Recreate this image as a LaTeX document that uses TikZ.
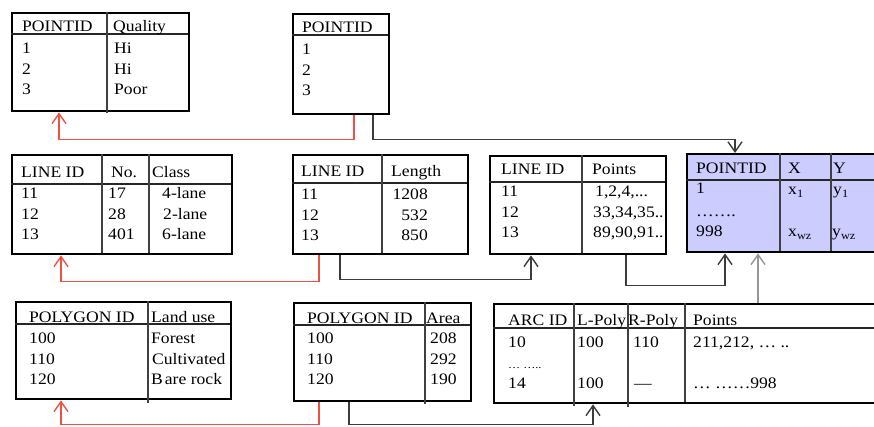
\documentclass[tikz,border=0pt]{standalone}
\usepackage{fontspec}
\setmainfont{Liberation Serif}[FakeStretch=1.1]
\usetikzlibrary{arrows.meta}
\definecolor{lav}{RGB}{204,204,255}
\definecolor{redc}{RGB}{240,80,65}
\definecolor{darkc}{RGB}{60,60,60}
\definecolor{grayc}{RGB}{150,150,150}
\tikzset{
  tbl/.style={draw=black, line width=2.4pt, inner sep=0pt, anchor=north west},
  hline/.style={line width=1.6pt, draw=black!85},
  vline/.style={line width=1.4pt, draw=black!75},
  txt/.style={anchor=base west, inner sep=0pt, font=\fontsize{16}{19}\selectfont},
  txtr/.style={txt, anchor=base east},
  small/.style={txt, font=\fontsize{11}{13}\selectfont},
  arr/.style={-{Straight Barb[length=10pt,width=14pt]}, line width=1.4pt},
  redconn/.style={arr, draw=redc},
  darkconn/.style={arr, draw=darkc},
  grayconn/.style={arr, draw=grayc},
}
\newcommand\tcell[4]{\node[txt] (#1) at (#2,#3) {#4};}
\newcommand\tcellr[4]{\node[txtr] (#1) at (#2,#3) {#4};}
\begin{document}
\begin{tikzpicture}[x=1pt,y=-1pt]
\useasboundingbox (0,0) rectangle (874,427);
\clip (0,0) rectangle (874,427);

% ---------- Table A ----------
\node[tbl, minimum width=177pt, minimum height=98pt] (tA) at (11,12) {};
\draw[hline] (11,34) -- (188,34);
\draw[vline] (107,12) -- (107,113);
\tcell{A-h1}{22}{32}{POINTID}
\tcell{A-h2}{113}{32}{Quality}
\tcell{A-11}{22}{54}{1}
\tcell{A-21}{22}{75}{2}
\tcell{A-31}{22}{95}{3}
\tcell{A-12}{114}{54}{Hi}
\tcell{A-22}{114}{75}{Hi}
\tcell{A-32}{114}{95}{Poor}

% ---------- Table B ----------
\node[tbl, minimum width=96pt, minimum height=100pt] (tB) at (292,13) {};
\draw[hline] (292,35) -- (388,35);
\tcell{B-h1}{302}{33}{POINTID}
\tcell{B-11}{302}{55}{1}
\tcell{B-21}{302}{76}{2}
\tcell{B-31}{302}{96}{3}

% ---------- Table C ----------
\node[tbl, minimum width=220pt, minimum height=99pt] (tC) at (11,154) {};
\draw[hline] (11,184) -- (231,184);
\draw[vline] (102,154) -- (102,253);
\draw[vline] (149,154) -- (149,253);
\tcell{C-h1}{21}{178}{LINE ID}
\tcell{C-h2}{111}{178}{No.}
\tcell{C-h3}{152}{178}{Class}
\tcell{C-11}{21}{199}{11}
\tcell{C-21}{21}{220}{12}
\tcell{C-31}{21}{240}{13}
\tcell{C-12}{108}{199}{17}
\tcell{C-22}{108}{220}{28}
\tcell{C-32}{108}{240}{401}
\tcell{C-13}{162}{199}{4-lane}
\tcell{C-23}{163}{220}{2-lane}
\tcell{C-33}{162}{240}{6-lane}

% ---------- Table D ----------
\node[tbl, minimum width=175pt, minimum height=99pt] (tD) at (292,154) {};
\draw[hline] (292,183) -- (467,183);
\draw[vline] (382,154) -- (382,253);
\tcell{D-h1}{301}{177}{LINE ID}
\tcell{D-h2}{391}{177}{Length}
\tcell{D-11}{301}{200}{11}
\tcell{D-21}{301}{221}{12}
\tcell{D-31}{301}{241}{13}
\tcellr{D-12}{428}{200}{1208}
\tcellr{D-22}{428}{221}{532}
\tcellr{D-32}{428}{241}{850}

% ---------- Table E ----------
\node[tbl, minimum width=176pt, minimum height=98pt] (tE) at (489,155) {};
\draw[hline] (489,182) -- (665,182);
\draw[vline] (582,155) -- (582,253);
\tcell{E-h1}{501}{175}{LINE ID}
\tcell{E-h2}{592}{175}{Points}
\tcell{E-11}{501}{197}{11}
\tcell{E-21}{501}{218}{12}
\tcell{E-31}{501}{238}{13}
\tcell{E-12}{595}{197}{1,2,4,...}
\tcell{E-22}{593}{218}{33,34,35..}
\tcell{E-32}{593}{238}{89,90,91..}

% ---------- Table F (points, coordinates) ----------
\node[tbl, fill=lav, minimum width=210pt, minimum height=98pt] (tF) at (686,153) {};
\draw[hline] (686,180) -- (896,180);
\draw[vline] (780,153) -- (780,251);
\draw[vline] (831,153) -- (831,251);
\tcell{F-h1}{696}{174}{POINTID}
\tcell{F-h2}{788}{174}{X}
\tcell{F-h3}{833}{174}{Y}
\tcell{F-11}{696}{194}{1}
\tcell{F-21}{696}{217}{…….}
\tcell{F-31}{696}{237}{998}
\tcell{F-12}{788}{195}{x\textsubscript{1}}
\tcell{F-13}{833}{195}{y\textsubscript{1}}
\tcell{F-32}{788}{237}{x\textsubscript{wz}}
\tcell{F-33}{832}{237}{y\textsubscript{wz}}

% ---------- Table G ----------
\node[tbl, minimum width=215pt, minimum height=97pt] (tG) at (15,301) {};
\draw[hline] (15,324) -- (230,324);
\draw[vline] (148,301) -- (148,403);
\tcell{G-h1}{29}{322}{POLYGON ID}
\tcell{G-h2}{151}{322}{Land use}
\tcell{G-11}{29}{343}{100}
\tcell{G-21}{29}{364}{110}
\tcell{G-31}{29}{384}{120}
\tcell{G-12}{151}{343}{Forest}
\tcell{G-22}{152}{364}{Cultivated}
\tcell{G-32}{151}{384}{B\kern2pt are rock}

% ---------- Table H ----------
\node[tbl, minimum width=177pt, minimum height=98pt] (tH) at (293,302) {};
\draw[hline] (293,325) -- (470,325);
\draw[vline] (425,302) -- (425,404);
\tcell{H-h1}{307}{323}{POLYGON ID}
\tcell{H-h2}{426}{323}{Area}
\tcell{H-11}{307}{343}{100}
\tcell{H-21}{307}{364}{110}
\tcell{H-31}{307}{384}{120}
\tcell{H-12}{430}{343}{208}
\tcell{H-22}{430}{364}{292}
\tcell{H-32}{430}{384}{190}

% ---------- Table ARC ----------
\node[tbl, minimum width=403pt, minimum height=99pt] (tArc) at (493,303) {};
\draw[hline] (493,328) -- (896,328);
\draw[vline] (574,303) -- (574,406);
\draw[vline] (628,303) -- (628,407);
\draw[vline] (685,303) -- (685,402);
\tcell{R-h1}{508}{325}{ARC ID}
\tcell{R-h2}{577}{325}{L-Poly}
\tcell{R-h3}{628}{325}{R-Poly}
\tcell{R-h4}{693}{325}{Points}
\tcell{R-11}{508}{347}{10}
\tcell{R-12}{577}{347}{100}
\tcell{R-13}{633}{347}{110}
\tcell{R-14}{693}{347}{211,212, … ..}
\node[small] (R-21) at (508,368) {… …..};
\tcell{R-31}{508}{388}{14}
\tcell{R-32}{577}{388}{100}
\tcell{R-33}{634}{388}{---}
\tcell{R-34}{693}{388}{… ……998}

% ---------- Connectors ----------
\draw[redconn] ([xshift=62pt]tB.south west) -- ++(0,24) -| ([xshift=48pt]tA.south west);
\draw[darkconn] ([xshift=81pt]tB.south west) -- ++(0,24) -| ([xshift=49pt]tF.north west);
\draw[redconn] ([xshift=27pt]tD.south west) -- ++(0,26) -| ([xshift=50pt]tC.south west);
\draw[darkconn] ([xshift=48pt]tD.south west) -- ++(0,24) -| ([xshift=42pt]tE.south west);
\draw[darkconn] ([xshift=137pt]tE.south west) -- ++(0,30) -| ([xshift=39pt]tF.south west);
\draw[grayconn] ([xshift=265pt]tArc.north west) -- ([xshift=72pt]tF.south west);
\draw[redconn] ([xshift=26pt]tH.south west) -- ++(0,22) -| ([xshift=46pt]tG.south west);
\draw[darkconn] ([xshift=56pt]tH.south west) -- ++(0,22) -| ([xshift=100pt]tArc.south west);
\end{tikzpicture}
\end{document}
